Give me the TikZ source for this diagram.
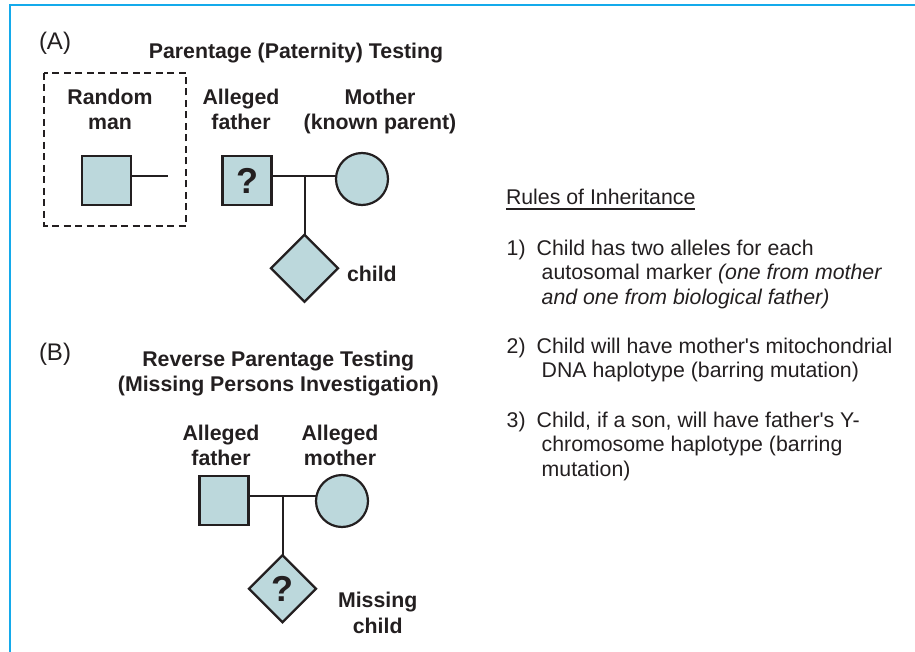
\documentclass[tikz,border=0pt]{standalone}
\usepackage{fontspec}
\setmainfont{Liberation Sans}
\usetikzlibrary{shapes.geometric}
\definecolor{ink}{RGB}{35,31,32}
\definecolor{pedfill}{RGB}{188,216,220}
\definecolor{framecol}{RGB}{20,170,235}

\begin{document}
\begin{tikzpicture}[x=1pt,y=-1pt,
  every node/.style={text=ink, inner sep=0pt, outer sep=0pt},
  lbl/.style={font=\bfseries\fontsize{21.3}{25.5}\selectfont, align=center, anchor=base},
  body/.style={font=\fontsize{21.3}{24.6}\selectfont, align=left, anchor=base west},
  tag/.style={font=\fontsize{24}{28}\selectfont, anchor=base west},
  male/.style={draw=ink, fill=pedfill, line width=2.2pt, rectangle, minimum size=49pt},
  female/.style={draw=ink, fill=pedfill, line width=2.2pt, circle, minimum size=52pt},
  unknown/.style={draw=ink, fill=pedfill, line width=2.2pt, diamond, aspect=1,
                  minimum width=67pt, minimum height=67pt},
  tie/.style={draw=ink, line width=2pt},
  qmark/.style={font=\bfseries\fontsize{36}{36}\selectfont}
]
\useasboundingbox (0,0) rectangle (915,652);
\draw[framecol, line width=2pt] (917,5.5) -- (10,5.5) -- (10,654);

% multi-line labels are placed by the baseline of their last line

% ---------- (A) paternity testing ----------
\node[tag] (tagA) at (39,50) {(A)};
\node[lbl] (titleA) at (296,59) {Parentage (Paternity) Testing};
\draw[ink, line width=2.2pt, dash pattern=on 7pt off 4.5pt] (44,73) rectangle (186,226);
\node[lbl] (rmlab) at (110,130) {Random\\man};
\node[lbl] (aflabA) at (241,130) {Alleged\\father};
\node[lbl] (molabA) at (380,130) {Mother\\(known parent)};

\node[male] (rm) at (106.5,180.5) {};
\node[male, qmark] (af) at (247,180.5) {?};
\node[female] (mo) at (362,179) {};
\node[unknown] (ch) at (304.5,268.3) {};
\node[lbl, anchor=base west] (chlab) at (347,281.7) {child};

\coordinate (rmend) at (168,176.5);
\coordinate (jA) at (304.5,176.5);
\draw[tie] (rm.east |- rmend) -- (rmend);
\draw[tie] (af.east |- jA) -- (mo.west |- jA);
\draw[tie] (jA) -- (ch.north);

% ---------- (B) reverse parentage testing ----------
\node[tag] (tagB) at (39,360) {(B)};
\node[lbl] (titleB) at (278.3,391.7) {Reverse Parentage Testing\\(Missing Persons Investigation)};
\node[lbl] (aflabB) at (221,465.7) {Alleged\\father};
\node[lbl] (molabB) at (340,465.7) {Alleged\\mother};

\node[male] (afB) at (224,500.3) {};
\node[female] (moB) at (342,501) {};
\node[unknown, qmark] (chB) at (282.5,588.7) {?};
\node[lbl] (mclab) at (377.7,633.3) {Missing\\child};

\coordinate (jB) at (282.5,496.3);
\draw[tie] (afB.east |- jB) -- (moB.west |- jB);
\draw[tie] (jB) -- (chB.north);

% ---------- rules of inheritance ----------
\node[body] (rules) at (506,204.5) {Rules of Inheritance};
\draw[ink, line width=1.3pt] ([yshift=-4.5pt]rules.base west) -- ([yshift=-4.5pt]rules.base east);

\node[body] (r1) at (506.7,304.2) {\makebox[30pt][l]{1)}Child has two alleles for each\\
  \hspace*{35pt}autosomal marker \textit{(one from mother}\\
  \hspace*{35pt}\textit{and one from biological father)}};
\node[body] (r2) at (506.7,377.6) {\makebox[30pt][l]{2)}Child will have mother\textquotesingle s mitochondrial\\
  \hspace*{35pt}DNA haplotype (barring mutation)};
\node[body] (r3) at (506.7,476.2) {\makebox[30pt][l]{3)}Child, if a son, will have father\textquotesingle s Y-\\
  \hspace*{35pt}chromosome haplotype (barring\\
  \hspace*{35pt}mutation)};
\end{tikzpicture}
\end{document}
